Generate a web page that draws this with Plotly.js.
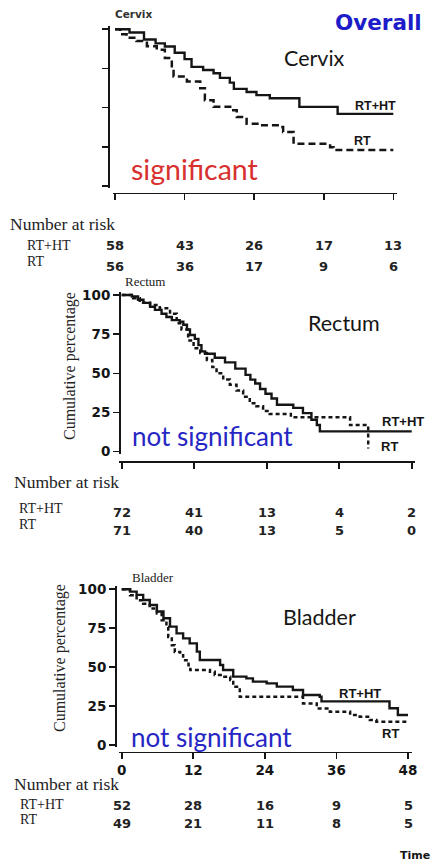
<!DOCTYPE html>
<html><head><meta charset="utf-8">
<script src="https://cdn.plot.ly/plotly-3.0.1.min.js"></script>
<style>html,body{margin:0;padding:0;background:#fff;}#chart{width:433px;height:863px;}</style>
</head><body><div id="chart"></div>
<script>
// ---------- data ----------
const riskTimes = [0, 12, 24, 36, 48];
const yTicks = [0, 25, 50, 75, 100];

const cervixRiskRTHT = [58, 43, 26, 17, 13];
const cervixRiskRT   = [56, 36, 17, 9, 6];
const rectumRiskRTHT = [72, 41, 13, 4, 2];
const rectumRiskRT   = [71, 40, 13, 5, 0];
const bladderRiskRTHT = [52, 28, 16, 9, 5];
const bladderRiskRT   = [49, 21, 11, 8, 5];

const cervixRTHT_t = [0, 2.5, 5, 7, 8.6, 10.3, 12, 13.2, 15.2, 17, 18.1, 19.8, 20.5, 22.7, 24.4, 26.7, 31.8, 38.4, 48];
const cervixRTHT_s = [100, 98, 93.5, 91, 89, 85, 81, 76, 74, 72, 69, 66, 62, 60, 58, 56, 50.5, 46, 46];
const cervixRT_t = [0, 0.9, 2, 3.7, 5.5, 7.2, 8.6, 9.8, 10.1, 12.4, 14.7, 15.5, 17, 20.4, 21, 22.7, 25, 28.5, 29, 30.8, 37.1, 37.7, 48];
const cervixRT_s = [100, 96.8, 94.6, 92.5, 89.2, 87, 81.7, 75.3, 69.9, 66.7, 62.4, 54.8, 50.5, 48.4, 44, 39.8, 38.7, 37.6, 34.4, 26.9, 24.7, 23, 23];

const rectumRTHT_t = [0, 1.7, 2.7, 3.6, 4.7, 5.5, 6.6, 7.4, 8.3, 9.6, 10.2, 10.8, 11.3, 12.1, 12.7, 13.2, 13.8, 15.4, 17.1, 18.8, 20.5, 21.3, 22.1, 22.9, 23.8, 24.8, 25.7, 28.4, 30, 31.4, 32.3, 32.8, 48];
const rectumRTHT_s = [100, 99, 97, 95, 92.5, 90.5, 88, 86, 84, 83, 81, 78, 74.5, 72, 68, 64, 62.5, 60, 57, 53, 49, 46, 43.5, 40, 37, 34, 30, 28, 24.6, 20.4, 17, 13, 13];
const rectumRT_t = [0, 1.9, 3, 4.7, 6.3, 8, 9.1, 9.9, 11, 11.9, 13, 14.1, 15, 15.7, 16.8, 17.9, 19, 20.1, 21.2, 22.3, 23.4, 24.5, 28, 37.8, 40.8];
const rectumRT_s = [100, 98, 95, 93.6, 91.5, 88, 82, 78, 71, 66, 63, 58.6, 54, 50, 46, 42.7, 39, 35, 31, 29, 26, 24, 22, 17, 2];

const bladderRTHT_t = [0, 1.4, 2.5, 3.6, 4.7, 5.9, 7, 8.1, 9.2, 10.3, 11.4, 12.6, 13.1, 16.5, 17, 18.7, 20.9, 22, 24.3, 26, 28.7, 30.4, 33.2, 33.5, 44.9, 46.3, 48];
const bladderRTHT_s = [100, 98.5, 96.4, 93.1, 89.9, 85.7, 81.4, 76, 71.7, 68.5, 65.3, 60, 54.6, 51.4, 48.2, 43.9, 42.8, 40.7, 39.6, 37.5, 35.3, 32.1, 31, 28, 23.6, 19.3, 19.3];
const bladderRT_t = [0, 1.4, 2.5, 3.6, 4.7, 5.9, 6.7, 7.5, 7.8, 8.4, 8.9, 9.8, 10.3, 11.2, 11.5, 14.8, 15.6, 17, 18.2, 18.7, 19.8, 30.4, 32.7, 34.9, 38.3, 39.9, 41.6, 42.7, 48];
const bladderRT_s = [100, 96.2, 93, 90.8, 87.6, 84.4, 80.1, 75.8, 69.4, 64.1, 59.8, 57.7, 54.5, 51.3, 48.1, 47, 44.9, 43.8, 41.7, 37.4, 31, 26.7, 23.5, 21.4, 19.2, 18.2, 16, 15, 15];

const rowLabels = ['RT+HT', 'RT'];
const riskHeader = 'Number at risk';

// ---------- layout helpers ----------
const W = 433, H = 863;
const fx = p => p / W;
const fy = p => 1 - p / H;
const XR = [-0.4, 48.6], YR = [-1.5, 102];
function xdom(p0, p48) { const k = (p48 - p0) / 48; return [fx(p0 + XR[0] * k), fx(p0 + XR[1] * k)]; }
function ydom(p100, p0) { const k = (p0 - p100) / 100; return [fy(p0 - YR[0] * k), fy(p0 - YR[1] * k)]; }

const INK = '#151515';
const boldNum = {family: 'DejaVu Sans', size: 13.5, color: INK, weight: 'bold'};
function xa(dom, posPix, labels) {
  return {domain: dom, anchor: 'free', position: fy(posPix), range: XR, tickvals: riskTimes,
    ticks: 'outside', ticklen: 6, tickwidth: 1.6, tickcolor: INK, showline: true, linecolor: INK, linewidth: 1.6,
    showgrid: false, zeroline: false, showticklabels: labels, tickfont: boldNum, fixedrange: true};
}
function ya(dom, posPix, labels) {
  return {domain: dom, anchor: 'free', position: fx(posPix), range: YR, tickvals: yTicks,
    ticks: 'outside', ticklen: 6, tickwidth: 1.6, tickcolor: INK, showline: true, linecolor: INK, linewidth: 1.6,
    showgrid: false, zeroline: false, showticklabels: labels, tickfont: boldNum, fixedrange: true};
}

function curve(t, s, xa_, ya_, dash) {
  return {x: t, y: s, xaxis: xa_, yaxis: ya_, type: 'scatter', mode: 'lines',
    line: {shape: 'hv', color: INK, width: dash ? 2.5 : 2.4, dash: dash || 'solid'}, hoverinfo: 'skip'};
}

const data = [
  curve(cervixRTHT_t, cervixRTHT_s, 'x', 'y'),
  curve(cervixRT_t, cervixRT_s, 'x', 'y', '7px,4px'),
  curve(rectumRTHT_t, rectumRTHT_s, 'x2', 'y2'),
  curve(rectumRT_t, rectumRT_s, 'x2', 'y2', '4px,3px'),
  curve(bladderRTHT_t, bladderRTHT_s, 'x3', 'y3'),
  curve(bladderRT_t, bladderRT_s, 'x3', 'y3', '4px,3px')
];

const ann = [];
function txt(text, x, y, font, xanchor, extra) {
  ann.push(Object.assign({text: text, x: fx(x), y: fy(y), xref: 'paper', yref: 'paper', xanchor: xanchor || 'left',
    yanchor: 'middle', showarrow: false, font: font}, extra || {}));
}
const serif = s => ({family: 'Liberation Serif, Times New Roman, serif', size: s, color: '#222'});
const calib = (s, c) => ({family: 'Lato, Open Sans, sans-serif', size: s, color: c});
const verdB = (s, c) => ({family: 'DejaVu Sans', size: s, color: c, weight: 'bold'});
const narrowB = s => ({family: 'Liberation Sans, Arial, sans-serif', size: s, color: INK, weight: 'bold'});

// panel titles / notes
txt('Overall', 333, 23, verdB(21.5, '#1c1cc8'));
txt('Cervix', 113, 14, verdB(10.5, '#333'));
txt('Cervix', 282, 58, calib(21.5, INK));
txt('significant', 129, 169, calib(28.5, '#d8302e'));
txt('Rectum', 123, 281, serif(13));
txt('Rectum', 306, 323, calib(21.5, INK));
txt('not significant', 130, 436, calib(26, '#2626c4'));
txt('Bladder', 130, 577, serif(13));
txt('Bladder', 281, 617, calib(21.5, INK));
txt('not significant', 129, 737, calib(26, '#2626c4'));
txt('Cumulative percentage', 70, 366, serif(16), 'center', {textangle: -90});
txt('Cumulative percentage', 60, 658, serif(16), 'center', {textangle: -90});
txt('Time', 432, 855, verdB(11, INK), 'right');

// curve labels
txt('RT+HT', 353, 106, narrowB(12.5));
txt('RT', 352, 141, narrowB(12.5));
txt('RT+HT', 380, 422, narrowB(13));
txt('RT', 379, 446, narrowB(13));
txt('RT+HT', 337, 693, narrowB(13));
txt('RT', 380, 733, narrowB(13));

// number at risk blocks
function riskBlock(xref, hx, hy, lx, ly1, ly2, ny1, ny2, vals1, vals2) {
  txt(riskHeader, hx, hy, serif(17.5));
  txt(rowLabels[0], lx, ly1, serif(14));
  txt(rowLabels[1], lx, ly2, serif(14));
  riskTimes.forEach((t, i) => {
    ann.push({text: String(vals1[i]), x: t, xref: xref, y: fy(ny1), yref: 'paper', xanchor: 'center', yanchor: 'middle', showarrow: false, font: verdB(13, '#222')});
    ann.push({text: String(vals2[i]), x: t, xref: xref, y: fy(ny2), yref: 'paper', xanchor: 'center', yanchor: 'middle', showarrow: false, font: verdB(13, '#222')});
  });
}
riskBlock('x', 8, 224, 25, 246, 262, 246, 266, cervixRiskRTHT, cervixRiskRT);
riskBlock('x2', 12, 482, 17, 508, 524, 512, 530, rectumRiskRTHT, rectumRiskRT);
riskBlock('x3', 12, 784, 18, 804, 819, 805, 823, bladderRiskRTHT, bladderRiskRT);

const layout = {
  width: W, height: H, autosize: false,
  margin: {l: 0, r: 0, t: 0, b: 0, pad: 0},
  paper_bgcolor: '#ffffff', plot_bgcolor: 'rgba(0,0,0,0)',
  showlegend: false, hovermode: false,
  xaxis: xa(xdom(115, 393.3), 192.5, false),
  yaxis: ya(ydom(29.3, 186), 108.3, false),
  xaxis2: xa(xdom(121.7, 411.7), 461, false),
  yaxis2: ya(ydom(295, 451.7), 119, true),
  xaxis3: xa(xdom(121.7, 408), 751.5, true),
  yaxis3: ya(ydom(589.3, 745), 115, true),
  annotations: ann
};

Plotly.newPlot('chart', data, layout, {staticPlot: true, displayModeBar: false});
</script>
</body></html>
